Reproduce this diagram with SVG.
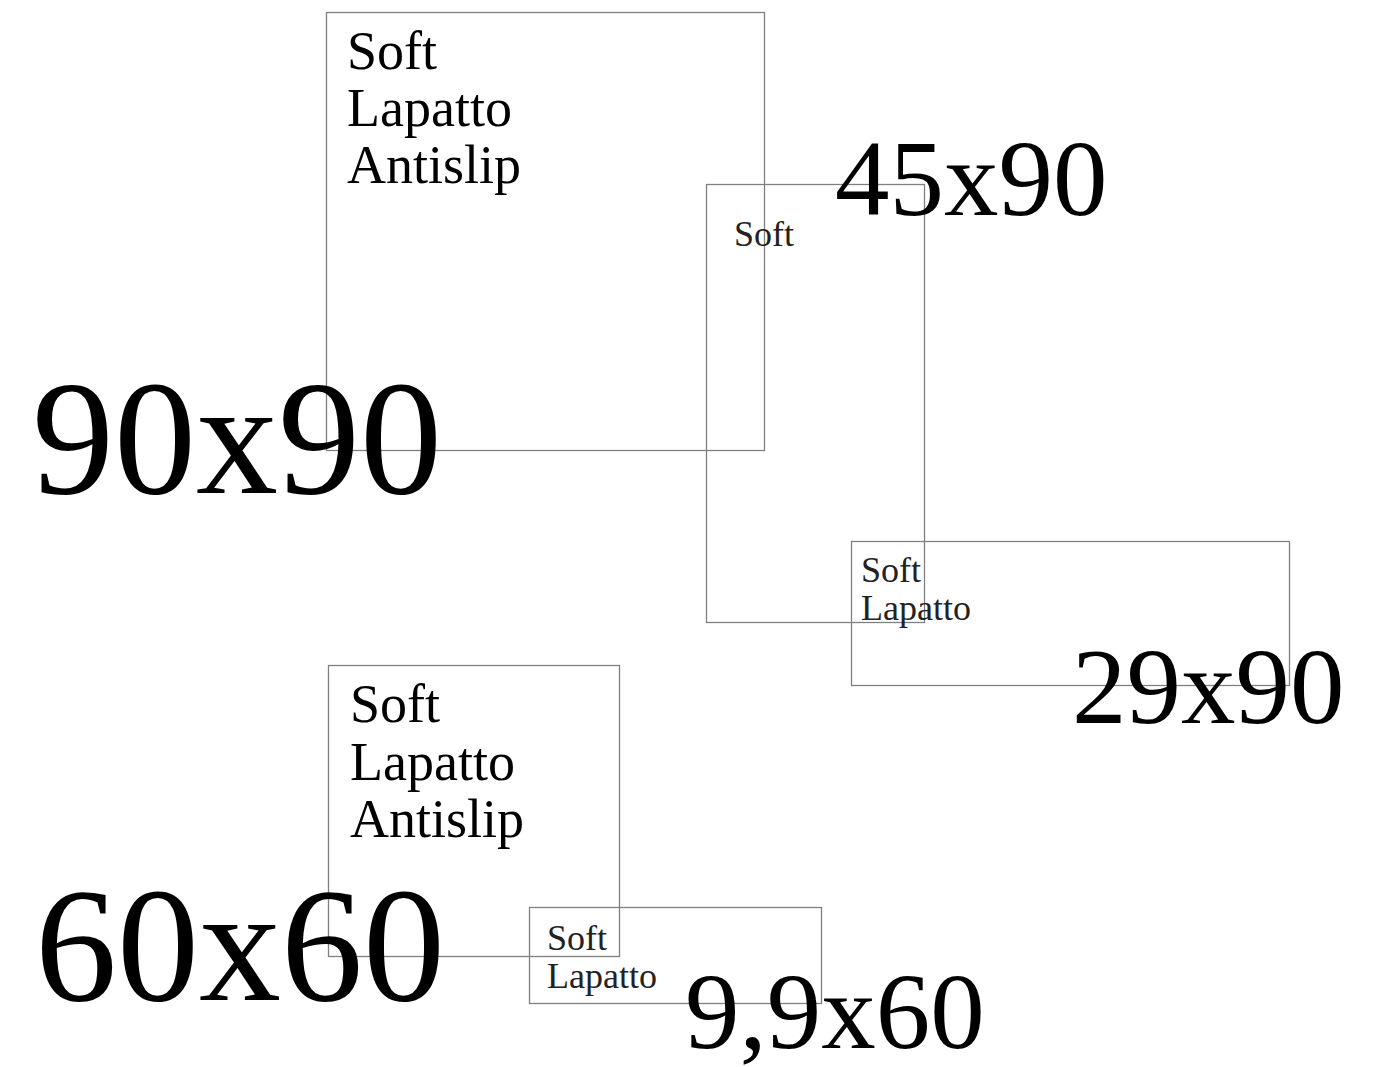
<svg xmlns="http://www.w3.org/2000/svg" width="1392" height="1067" viewBox="0 0 1392 1067">
<style>
.box{fill:none;stroke:#808080;stroke-width:1.3}
text{font-family:"Liberation Serif","DejaVu Serif",serif;fill:#000}
.big{font-size:164px}
.mid{font-size:109px}
.lbl{font-size:54px}
.sm{font-size:36px;fill:#222}
</style>
<rect width="1392" height="1067" fill="#fff"/>
<g id="connectors"/>
<g id="tile-90x90">
<rect class="box" x="326.5" y="12.5" width="438" height="438"/>
<text class="lbl" x="347" y="69">Soft</text>
<text class="lbl" x="347" y="126">Lapatto</text>
<text class="lbl" x="347" y="183">Antislip</text>
<text class="big" x="32" y="493">90x90</text>
</g>
<g id="tile-45x90">
<rect class="box" x="706.5" y="184.5" width="218" height="438"/>
<text class="sm" x="734" y="246">Soft</text>
<text class="mid" x="835" y="215">45x90</text>
</g>
<g id="tile-29x90">
<rect class="box" x="851.5" y="541.5" width="438" height="144"/>
<text class="sm" x="861" y="582">Soft</text>
<text class="sm" x="861" y="620">Lapatto</text>
<text class="mid" x="1072" y="723">29x90</text>
</g>
<g id="tile-60x60">
<rect class="box" x="328.5" y="665.5" width="291" height="291"/>
<text class="lbl" x="350" y="722">Soft</text>
<text class="lbl" x="350" y="780">Lapatto</text>
<text class="lbl" x="350" y="837">Antislip</text>
<text class="big" x="35" y="1000">60x60</text>
</g>
<g id="tile-9.9x60">
<rect class="box" x="529.5" y="907.5" width="292" height="96"/>
<text class="sm" x="547" y="950">Soft</text>
<text class="sm" x="547" y="988">Lapatto</text>
<text class="mid" x="685" y="1048">9,9x60</text>
</g>
</svg>
